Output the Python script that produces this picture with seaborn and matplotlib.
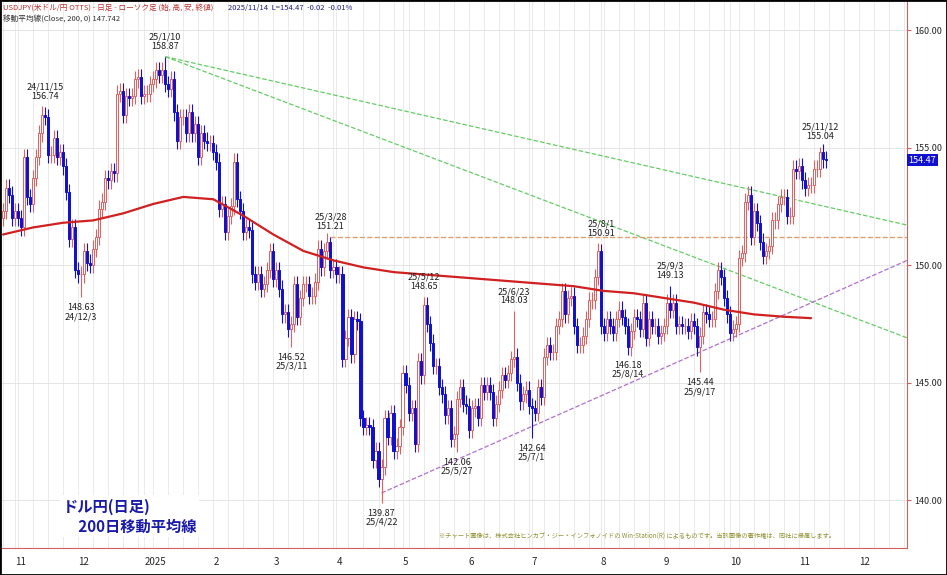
import matplotlib.pyplot as plt
import seaborn as sns
import numpy as np
import pandas as pd

# daily closes, USD/JPY, from 2024-10-28
closes = [
    152.3, 153.3, 153.0, 152.0, 152.3,
    152.0, 151.6, 154.6, 152.9, 152.6, 153.7, 154.6, 155.6, 156.4, 156.3,
    154.7, 154.7, 155.4, 154.6, 154.8, 154.2, 153.1, 151.1, 151.6, 149.8,
    149.6, 149.6, 150.6, 150.1, 150.0, 150.7, 151.2, 152.4, 152.7, 153.7,
    153.6, 154.0, 153.9, 157.3, 157.4, 156.4, 157.2, 157.1, 157.2, 157.9,
    158.0, 157.2, 157.3, 157.3, 157.7, 157.9, 158.3, 158.1, 158.3, 157.7,
    157.5, 157.9, 156.5, 155.3, 156.3, 156.3, 155.6, 156.5, 155.6, 156.0,
    154.6, 155.6, 155.3, 155.2, 155.2, 154.8, 154.4, 152.4, 152.6, 151.4,
    152.1, 152.5, 154.4, 152.8, 152.3, 151.4, 151.6, 151.5, 149.6, 149.3,
    149.6, 149.0, 149.2, 149.8, 150.6, 149.4, 149.8, 149.0, 147.9, 148.0,
    147.3, 147.5, 149.2, 147.8, 148.6, 149.2, 149.2, 148.7, 148.7, 149.3,
    150.7, 149.9, 150.6, 151.0, 149.8, 149.9, 149.6, 149.6, 146.0, 146.9,
    147.8, 146.2, 147.7, 147.6, 143.5, 143.1, 143.2, 143.1, 141.7, 142.1,
    140.9, 141.4, 143.5, 142.7, 143.7, 142.1, 142.3, 143.1, 145.4, 144.9,
    143.7, 143.9, 142.4, 145.9, 145.3, 148.3, 147.5, 146.7, 145.7, 145.7,
    144.8, 144.5, 143.6, 143.9, 142.6, 142.8, 144.3, 144.8, 144.1, 144.0,
    143.0, 143.9, 144.0, 143.5, 144.9, 144.6, 144.9, 144.6, 143.5, 144.1,
    144.7, 145.3, 145.1, 145.4, 146.0, 146.1, 145.0, 144.2, 144.5, 144.7,
    144.0, 143.9, 143.7, 144.8, 144.4, 146.1, 146.6, 146.3, 146.3, 147.4,
    147.7, 148.9, 147.9, 148.6, 148.7, 147.4, 146.6, 146.6, 147.0, 147.7,
    148.5, 148.5, 149.5, 150.6, 147.4, 147.1, 147.7, 147.4, 147.1, 147.7,
    148.1, 147.8, 147.4, 146.5, 147.2, 147.8, 147.7, 147.3, 148.4, 146.9,
    147.7, 147.4, 147.4, 147.0, 147.1, 147.4, 148.4, 148.1, 148.4, 147.4,
    147.5, 147.4, 147.4, 147.2, 147.6, 147.4, 146.5, 147.0, 148.0, 147.9,
    147.7, 147.7, 148.9, 149.8, 149.5, 148.6, 147.9, 147.1, 147.3, 147.5,
    150.3, 150.5, 152.7, 153.0, 151.2, 152.3, 151.8, 151.0, 150.4, 150.6,
    150.8, 151.9, 151.9, 152.6, 152.9, 152.9, 152.1, 152.1, 154.1, 154.0,
    154.2, 153.6, 153.3, 153.4, 153.4, 154.1, 154.1, 154.8, 154.5, 154.47,
]
start_open = 152.0

# 200-day moving average, every 10 trading days
ma_days = [0, 10, 20, 30, 40, 50, 60, 70, 80, 90, 100, 110, 120, 130, 140,
           150, 160, 170, 180, 190, 200, 210, 220, 230, 240, 250, 260, 269]
ma_vals = [151.3, 151.6, 151.8, 151.9, 152.2, 152.6, 152.9, 152.8, 152.1, 151.3,
           150.6, 150.2, 149.9, 149.7, 149.6, 149.5, 149.4, 149.3, 149.2, 149.1,
           148.9, 148.8, 148.6, 148.4, 148.1, 147.9, 147.8, 147.74]

# labelled highs / lows: (date, price, text date)
highs = [('2024-11-15', 156.74, '24/11/15'), ('2025-01-10', 158.87, '25/1/10'),
         ('2025-03-28', 151.21, '25/3/28'), ('2025-05-12', 148.65, '25/5/12'),
         ('2025-06-23', 148.03, '25/6/23'), ('2025-08-01', 150.91, '25/8/1'),
         ('2025-09-03', 149.13, '25/9/3'), ('2025-11-12', 155.04, '25/11/12')]
lows = [('2024-12-03', 148.63, '24/12/3'), ('2025-03-11', 146.52, '25/3/11'),
        ('2025-04-22', 139.87, '25/4/22'), ('2025-05-27', 142.06, '25/5/27'),
        ('2025-07-01', 142.64, '25/7/1'), ('2025-08-14', 146.18, '25/8/14'),
        ('2025-09-17', 145.44, '25/9/17')]

n = len(closes)
dates = pd.bdate_range('2024-10-28', periods=n + 40)
closes = np.array(closes)
opens = np.concatenate([[start_open], closes[:-1]])
hi = np.maximum(opens, closes) + 0.35
lo = np.minimum(opens, closes) - 0.35


def idx_of(d):
    return int(np.argmin(np.abs(dates[:n] - pd.Timestamp(d))))


for d, p, _ in highs:
    hi[idx_of(d)] = p
for d, p, _ in lows:
    lo[idx_of(d)] = p

sns.set_style('whitegrid')
plt.rcParams['font.family'] = ['Noto Sans CJK JP', 'DejaVu Sans']
fig = plt.figure(figsize=(9.47, 5.75), dpi=100)
ax = fig.add_axes([0.0, 0.047, 0.958, 0.953])
x = np.arange(n)
up = closes >= opens
ax.vlines(x, lo, hi, color=np.where(up, '#e06060', '#1010d0'), lw=0.8, zorder=3)
ax.bar(x[up], closes[up] - opens[up], bottom=opens[up], width=0.7,
       color='white', edgecolor='#e06060', lw=0.7, zorder=4)
ax.bar(x[~up], opens[~up] - closes[~up], bottom=closes[~up], width=0.7,
       color='#1010d0', edgecolor='#1010d0', lw=0.7, zorder=4)

ma = pd.DataFrame({'day': ma_days, 'ma': ma_vals})
sns.lineplot(data=ma, x='day', y='ma', color='#d02020', lw=1.6, ax=ax, zorder=5)

xr = n + 26
pk = idx_of('2025-01-10')
ax.plot([pk, xr], [158.87, 151.7], ls='--', color='#66cc66', lw=0.9, zorder=2)
ax.plot([pk, xr], [158.87, 146.9], ls='--', color='#66cc66', lw=0.9, zorder=2)
ax.plot([idx_of('2025-03-28'), xr], [151.21, 151.21], ls='--', color='#e0a070', lw=1.0, zorder=2)
ax.plot([idx_of('2025-04-22'), xr], [140.3, 150.2], ls='--', color='#b070d0', lw=0.9, zorder=2)

for d, p, t in highs:
    ax.text(idx_of(d), p + 0.25, f'{t}\n{p:.2f}', ha='center', va='bottom',
            fontsize=6.5, color='#202020', linespacing=1.0, zorder=6)
for d, p, t in lows:
    ax.text(idx_of(d), p - 0.25, f'{p:.2f}\n{t}', ha='center', va='top',
            fontsize=6.5, color='#202020', linespacing=1.0, zorder=6)

ax.set_xlim(-1, xr)
ax.set_ylim(137.96, 161.28)
ax.yaxis.tick_right()
ax.set_yticks([140, 145, 150, 155, 160])
ax.set_yticklabels(['140.00', '145.00', '150.00', '155.00', '160.00'], fontsize=6.5)
ax.tick_params(axis='y', pad=2, length=3, color='#d06060')
ax.set_ylabel('')
ax.set_xlabel('')

# month ticks on the first trading day of each month
ticks, labels = [], []
for i in range(1, len(dates)):
    if i < xr and dates[i].month != dates[i - 1].month:
        ticks.append(i)
        labels.append('2025' if dates[i].month == 1 else str(dates[i].month))
ax.set_xticks(ticks)
ax.set_xticklabels(labels, fontsize=7, ha='left')
ax.set_xticks(np.arange(0, xr, 5), minor=True)
ax.tick_params(axis='x', which='both', direction='out', length=3, color='#d06060')
ax.grid(True, which='minor', axis='x', color='#e6e6e6', lw=0.6)
ax.grid(True, which='major', axis='x', color='#e6e6e6', lw=0.6)
ax.grid(True, axis='y', color='#e0e0e0', lw=0.6)
for s in ['top', 'left']:
    ax.spines[s].set_visible(False)
ax.spines['right'].set_color('#d06060')
ax.spines['bottom'].set_color('#d06060')

ax.text(0, 160.95, 'USDJPY(米ドル/円 OTTS) - 日足 - ローソク足 (始, 高, 安, 終値)',
        fontsize=5.5, color='#c03030', va='center')
ax.text(75, 160.95, '2025/11/14  L=154.47  -0.02  -0.01%', fontsize=5.5, color='#202080', va='center')
ax.text(0, 160.45, '移動平均線(Close, 200, 0) 147.742', fontsize=5.5,
        color='#303030', va='center')
ax.text(20, 139.3, 'ドル円(日足)\n　200日移動平均線', fontsize=11, color='#1a1aa8',
        fontweight='bold', va='center', linespacing=1.3,
        bbox=dict(facecolor='white', edgecolor='none', pad=2))
ax.text(145, 138.4, '※チャート画像は、株式会社ヒンカブ・ジー・インフォノイドの Win-Station(R) によるものです。当該画像の著作権は、同社に帰属します。',
        fontsize=4.5, color='#909030')
ax.text(xr + 0.5, closes[-1], f'{closes[-1]:.2f}', fontsize=6.5, color='white', va='center',
        bbox=dict(facecolor='#1010d0', edgecolor='none', pad=1), clip_on=False)

fig.patches.append(plt.Rectangle((0, 0), 1, 1, transform=fig.transFigure, fill=False,
                                 edgecolor='black', lw=2))
fig.savefig('out.png', dpi=100)
